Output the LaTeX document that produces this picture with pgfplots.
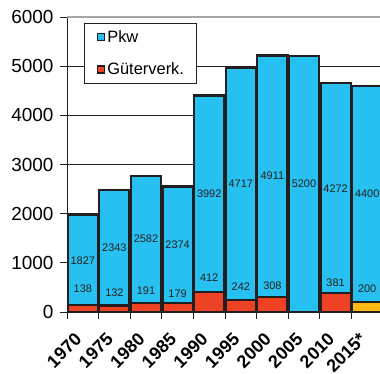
\documentclass[border=0pt]{standalone}
\usepackage{pgfplots}
\pgfplotsset{compat=1.18}
\usepackage{fontspec}
\setmainfont{Liberation Sans}

\definecolor{pkwblue}{HTML}{27C1F1}
\definecolor{gvred}{HTML}{EE4224}
\definecolor{gvyellow}{HTML}{FDBA14}
\definecolor{edge}{HTML}{231F20}

% Verkehrsleistung: Güterverkehr (unten) und Pkw (oben)
\pgfplotstableread{
x  gv   gvy  pkw
0  138  0    1827
1  132  0    2343
2  191  0    2582
3  179  0    2374
4  412  0    3992
5  242  0    4717
6  308  0    4911
7  0    0    5200
8  381  0    4272
9  0    200  4400
}\datatable

% Positionen der Werte-Beschriftungen
\pgfplotstableread{
x  y       lab
0  1051.5  1827
1  1303.5  2343
2  1482    2582
3  1366    2374
4  2408    3992
5  2600.5  4717
6  2763.5  4911
7  2600    5200
8  2517    4272
9  2400    4400
0  470     138
1  395     132
2  435     191
3  380     179
4  705     412
5  515     242
6  535     308
8  595     381
9  470     200
}\labeltable

\pgfplotsset{
  common/.style={
    at={(0,0)}, anchor=south west,
    scale only axis, width=316bp, height=295bp,
    xmin=-0.5, xmax=9.5, ymin=0, ymax=6000,
    clip=false,
  },
}

\begin{document}
\begin{tikzpicture}
\useasboundingbox (-67bp,-62bp) rectangle (313bp,312bp);
\clip (-67bp,-62bp) rectangle (313bp,312bp);

\begin{axis}[
  common,
  ybar stacked, bar width=0.96,
  axis x line*=bottom, axis y line*=left,
  axis line style={edge, line width=1pt},
  ytick={0,1000,...,6000},
  ymajorgrids, grid style={edge, line width=0.8pt},
  ytick align=outside, ytick style={edge, line width=0.8pt},
  major tick length=7bp,
  /pgf/number format/assume math mode=true,
  /pgf/number format/set thousands separator={},
  y tick label style={font=\fontsize{19}{19}\selectfont, xshift=-3bp},
  xtick={0,...,9},
  xticklabels={1970,1975,1980,1985,1990,1995,2000,2005,2010,2015*},
  xtick style={draw=none},
  x tick label style={font=\bfseries\fontsize{18}{18}\selectfont,
    xshift=-9bp, yshift=-15bp, rotate=45, anchor=north east},
  extra x ticks={-0.5,0.5,...,9.5},
  extra x tick labels={},
  extra x tick style={xtick style={draw=edge, line width=0.8pt}, tick align=outside},
  legend style={at={(17bp,289bp)}, anchor=north west,
    draw=edge, line width=0.6pt, fill=white,
    font=\fontsize{16.5}{16.5}\selectfont,
    inner xsep=10bp, inner ysep=5bp, row sep=15bp,
    cells={anchor=west}},
  legend image code/.code={
    \path (0bp,0bp);
    \draw[#1, line width=1.4pt] (3bp,-3.5bp) rectangle (10bp,3.5bp);},
]
\addlegendimage{fill=pkwblue, draw=edge}
\addlegendentry{Pkw}
\addlegendimage{fill=gvred, draw=edge}
\addlegendentry{Güterverk.}

\addplot[fill=gvred, draw=edge, line width=2.2bp, forget plot]
  table[x=x, y=gv] {\datatable};
\addplot[fill=gvyellow, draw=edge, line width=2.2bp, forget plot]
  table[x=x, y=gvy] {\datatable};
\addplot[fill=pkwblue, draw=edge, line width=2.2bp, forget plot]
  table[x=x, y=pkw] {\datatable};

\draw[gray!70, line width=2pt] (axis cs:-0.5,6000) -- (axis cs:9.5,6000);
\end{axis}

\begin{axis}[common, hide axis]
\addplot[only marks, mark=none,
  nodes near coords, point meta=explicit symbolic,
  nodes near coords style={anchor=center, inner sep=0pt,
    font=\fontsize{11}{11}\selectfont, text=edge}]
  table[x=x, y=y, meta=lab] {\labeltable};
\end{axis}
\end{tikzpicture}
\end{document}
